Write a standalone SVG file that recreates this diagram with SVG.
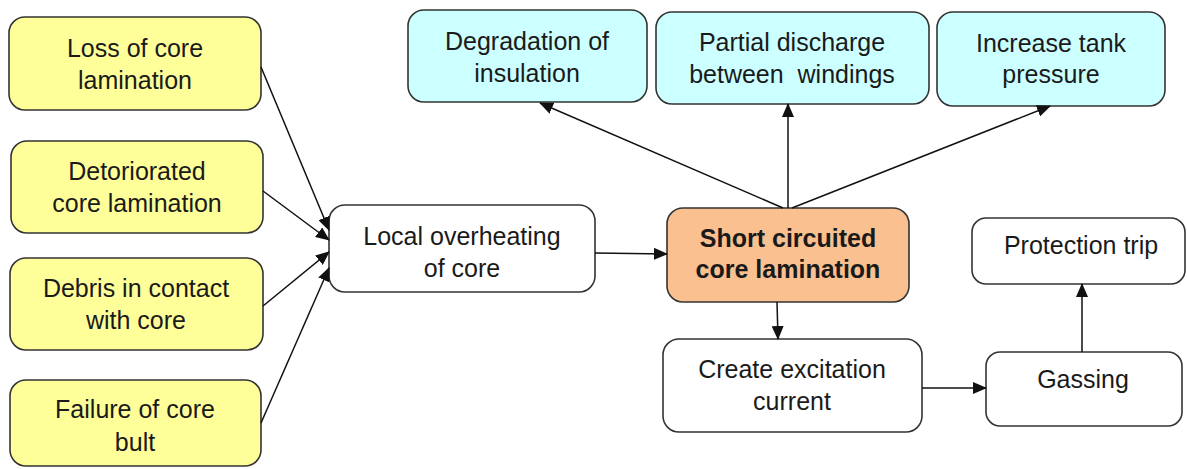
<svg xmlns="http://www.w3.org/2000/svg" width="1187" height="469" viewBox="0 0 1187 469">
  <defs>
    <marker id="arrow" markerUnits="userSpaceOnUse" markerWidth="14" markerHeight="12" refX="13" refY="6" orient="auto">
      <path d="M0,0 L14,6 L0,12 Z" fill="#111"/>
    </marker>
    <style>
      .box { stroke: #333; stroke-width: 1.6; }
      .cause { fill: #FFFF99; }
      .effect { fill: #CCFFFF; }
      .core { fill: #FAC090; }
      .plain { fill: #FFFFFF; }
      text { font-family: "Liberation Sans", Arial, sans-serif; font-size: 25px; fill: #1a1a1a; text-anchor: middle; }
      .bold { font-weight: bold; }
      .link { stroke: #111; stroke-width: 1.5; fill: none; marker-end: url(#arrow); }
    </style>
  </defs>
  <rect width="1187" height="469" fill="#FFFFFF"/>

  <!-- causes -->
  <g id="loss-lamination">
    <rect class="box cause" x="9" y="17" width="252" height="93" rx="16"/>
    <text x="135" y="57">Loss of core</text>
    <text x="135" y="89">lamination</text>
  </g>
  <g id="deteriorated-lamination">
    <rect class="box cause" x="11" y="141" width="252" height="92" rx="16"/>
    <text x="137" y="180">Detoriorated</text>
    <text x="137" y="212">core lamination</text>
  </g>
  <g id="debris-contact">
    <rect class="box cause" x="10" y="258" width="253" height="92" rx="16"/>
    <text x="136" y="297">Debris in contact</text>
    <text x="136" y="329">with core</text>
  </g>
  <g id="core-bolt-failure">
    <rect class="box cause" x="10" y="380" width="251" height="86" rx="16"/>
    <text x="135" y="418">Failure of core</text>
    <text x="135" y="451">bult</text>
  </g>

  <!-- intermediate -->
  <g id="local-overheating">
    <rect class="box plain" x="329" y="205" width="266" height="87" rx="16"/>
    <text x="462" y="245">Local overheating</text>
    <text x="462" y="277">of core</text>
  </g>
  <g id="short-circuited">
    <rect class="box core" x="667" y="208" width="242" height="94" rx="16"/>
    <text class="bold" x="788" y="247">Short circuited</text>
    <text class="bold" x="788" y="278">core lamination</text>
  </g>

  <!-- effects -->
  <g id="insulation-degradation">
    <rect class="box effect" x="408" y="10" width="239" height="92" rx="16"/>
    <text x="527" y="50">Degradation of</text>
    <text x="527" y="82">insulation</text>
  </g>
  <g id="partial-discharge">
    <rect class="box effect" x="656" y="12" width="273" height="92" rx="16"/>
    <text x="792" y="51">Partial discharge</text>
    <text x="792" y="83" xml:space="preserve">between  windings</text>
  </g>
  <g id="tank-pressure">
    <rect class="box effect" x="937" y="12" width="228" height="94" rx="16"/>
    <text x="1051" y="52">Increase tank</text>
    <text x="1051" y="83">pressure</text>
  </g>
  <g id="excitation-current">
    <rect class="box plain" x="663" y="339" width="259" height="93" rx="16"/>
    <text x="792" y="378">Create excitation</text>
    <text x="792" y="410">current</text>
  </g>
  <g id="gassing">
    <rect class="box plain" x="986" y="352" width="196" height="74" rx="14"/>
    <text x="1083" y="388">Gassing</text>
  </g>
  <g id="protection-trip">
    <rect class="box plain" x="972" y="218" width="213" height="66" rx="14"/>
    <text x="1081" y="254">Protection trip</text>
  </g>

  <!-- connectors -->
  <g id="connectors">
    <line class="link" x1="261" y1="67" x2="329" y2="230"/>
    <line class="link" x1="263" y1="191" x2="329" y2="240"/>
    <line class="link" x1="263" y1="306" x2="329" y2="252"/>
    <line class="link" x1="261" y1="423" x2="329" y2="268"/>
    <line class="link" x1="595" y1="253" x2="667" y2="254"/>
    <line class="link" x1="783" y1="208" x2="540" y2="103"/>
    <line class="link" x1="788" y1="208" x2="788" y2="104"/>
    <line class="link" x1="792" y1="208" x2="1050" y2="106"/>
    <line class="link" x1="777" y1="302" x2="778" y2="339"/>
    <line class="link" x1="922" y1="388" x2="986" y2="388"/>
    <line class="link" x1="1082" y1="352" x2="1082" y2="284"/>
  </g>
</svg>
